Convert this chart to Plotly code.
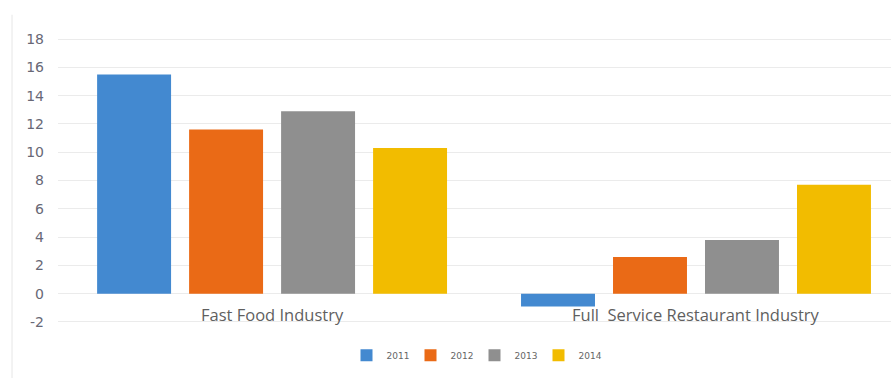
import plotly.graph_objects as go

categories = ["Fast Food Industry", "Full  Service Restaurant Industry"]
years = ["2011", "2012", "2013", "2014"]
values_2011 = [15.5, -0.9]
values_2012 = [11.6, 2.6]
values_2013 = [12.9, 3.8]
values_2014 = [10.3, 7.7]
series = [values_2011, values_2012, values_2013, values_2014]
colors = ["#4389D0", "#EA6A16", "#8F8F8F", "#F2BC00"]
y_ticks = [-2, 0, 2, 4, 6, 8, 10, 12, 14, 16, 18]
y_tick_labels = ["-2", "0", "2", "4", "6", "8", "10", "12", "14", "16", "18"]

fig = go.Figure()
for yr, vals, col in zip(years, series, colors):
    fig.add_trace(go.Bar(
        x=[0, 1], y=vals, name=yr,
        marker=dict(color=col, line=dict(width=0)),
    ))

for i, cat in enumerate(categories):
    fig.add_annotation(
        x=i, y=0, xref="x", yref="y", text=cat, showarrow=False,
        yanchor="top", yshift=-7,
        font=dict(family="Open Sans", size=16.5, color="#5f5f5f"),
    )

fig.add_shape(type="line", xref="paper", yref="paper",
              x0=-0.0552, x1=-0.0552, y0=-0.15, y1=1.05,
              line=dict(color="#e6e6e6", width=1))

fig.update_layout(
    width=891, height=378,
    margin=dict(l=58, r=0, t=30, b=43),
    paper_bgcolor="white", plot_bgcolor="white",
    barmode="group", bargap=0.132, bargroupgap=0.196,
    showlegend=True,
    legend=dict(
        orientation="h", x=0.5, xanchor="center", y=-0.066, yanchor="middle",
        font=dict(family="DejaVu Sans", size=9, color="#666666"),
        itemwidth=30, entrywidth=19, tracegroupgap=0,
    ),
    xaxis=dict(
        range=[-0.505, 1.46], showticklabels=False, showgrid=False,
        zeroline=False, showline=False, ticks="",
    ),
    yaxis=dict(
        range=[-2.92, 18.64], tickvals=y_ticks, ticktext=y_tick_labels,
        showgrid=True,
        gridcolor="#ebebeb", gridwidth=1, zeroline=False, showline=False,
        ticklabelstandoff=13,
        tickfont=dict(family="DejaVu Sans", size=14, color="#686876"),
    ),
)

fig.write_html("out.html")
